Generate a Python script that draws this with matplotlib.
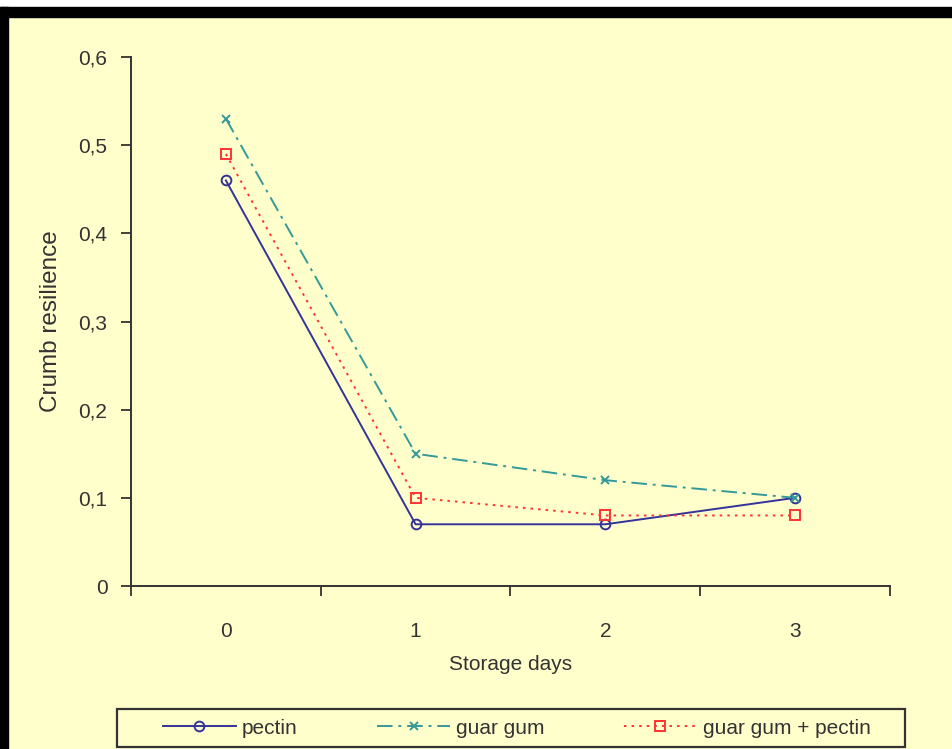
import matplotlib
matplotlib.use("Agg")
import matplotlib.pyplot as plt
from matplotlib.patches import Rectangle

days = [0, 1, 2, 3]
day_labels = ["0", "1", "2", "3"]
pectin = [0.46, 0.07, 0.07, 0.10]
guar_gum = [0.53, 0.15, 0.12, 0.10]
guar_pectin = [0.49, 0.10, 0.08, 0.08]
y_ticks = [0, 0.1, 0.2, 0.3, 0.4, 0.5, 0.6]
y_tick_labels = ["0", "0,1", "0,2", "0,3", "0,4", "0,5", "0,6"]

plt.rcParams['font.family'] = ['Liberation Sans', 'DejaVu Sans']
txt = '#333333'
bg = '#FFFFCC'

fig = plt.figure(figsize=(9.53, 7.49), dpi=100)
fig.patch.set_facecolor(bg)
W, H = 953, 749
# black frame at top and left, white strip at very top
fig.add_artist(Rectangle((0, 1 - 7 / H), 1, 7 / H, transform=fig.transFigure, color='white', zorder=0))
fig.add_artist(Rectangle((0, 1 - 17 / H), 1, 10 / H, transform=fig.transFigure, color='black', zorder=0))
fig.add_artist(Rectangle((0, 0), 8 / W, 1 - 7 / H, transform=fig.transFigure, color='black', zorder=0))

ax = fig.add_axes([131 / W, 1 - 586 / H, (890 - 131) / W, (586 - 57) / H])
ax.set_facecolor(bg)

l1, = ax.plot(days, pectin, color='#333399', linestyle='-', linewidth=1.4,
              marker='o', markersize=7, markerfacecolor='none', markeredgewidth=1.4, label='pectin')
l2, = ax.plot(days, guar_gum, color='#339999', linestyle=(0, (8, 3, 1.5, 3)), linewidth=1.4,
              marker='x', markersize=6, markeredgewidth=1.4, label='guar gum')
l3, = ax.plot(days, guar_pectin, color='#FF3333', linestyle=(0, (1.3, 2.6)), linewidth=1.4,
              marker='s', markersize=7, markerfacecolor='none', markeredgewidth=1.4, label='guar gum + pectin')

ax.set_xlim(-0.5, 3.5)
ax.set_ylim(0, 0.6)
ax.set_yticks(y_ticks)
ax.set_yticklabels(y_tick_labels)
ax.set_xticks(days)
ax.set_xticklabels(day_labels)
ax.set_xticks([-0.5, 0.5, 1.5, 2.5, 3.5], minor=True)
ax.tick_params(axis='x', which='major', length=0, pad=26, labelsize=15, labelcolor=txt)
ax.tick_params(axis='x', which='minor', length=7, width=1.3, color='#333333', direction='out')
ax.tick_params(axis='y', which='major', length=7, width=1.3, color='#333333', direction='out',
               labelsize=15, labelcolor=txt, pad=10)
for s in ['top', 'right']:
    ax.spines[s].set_visible(False)
for s in ['left', 'bottom']:
    ax.spines[s].set_color('#333333')
    ax.spines[s].set_linewidth(1.4)

ax.set_xlabel('Storage days', fontsize=15, color=txt, labelpad=10)
ax.set_ylabel('Crumb resilience', fontsize=17.5, color=txt, labelpad=12)

# legend frame
fig.add_artist(Rectangle((117 / W, 2 / H), (905 - 117) / W, 38 / H, transform=fig.transFigure,
                         facecolor=bg, edgecolor='#333333', linewidth=1.6, zorder=1))
leg = fig.legend(handles=[l1, l2, l3], loc='center', ncol=3,
                 bbox_to_anchor=(517 / W, 21 / H),
                 frameon=False, fontsize=15, handlelength=3.5,
                 handletextpad=0.3, columnspacing=3.8, borderaxespad=0)
leg.set_zorder(2)
for t in leg.get_texts():
    t.set_color(txt)

fig.savefig('out.png', dpi=100, facecolor=bg)
